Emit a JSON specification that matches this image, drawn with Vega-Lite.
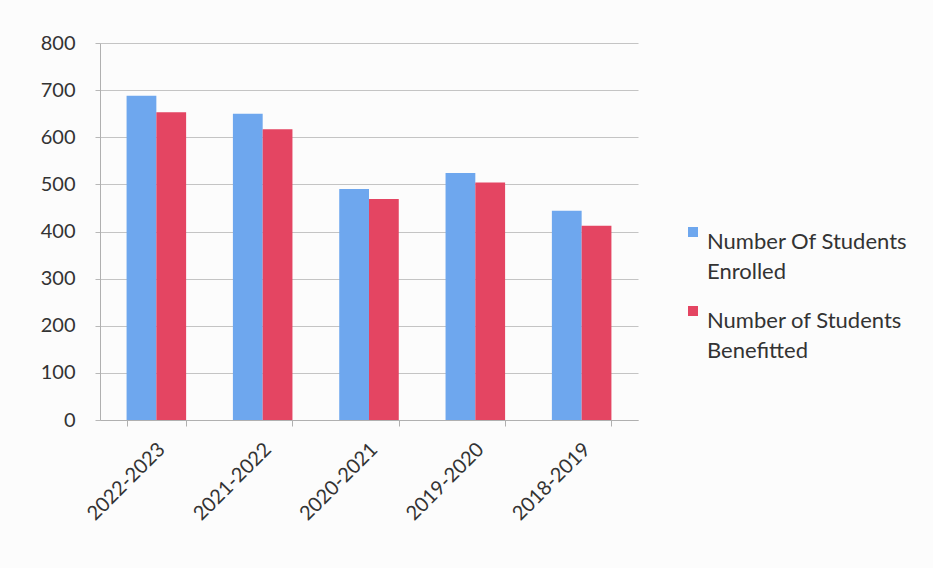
{
  "$schema": "https://vega.github.io/schema/vega-lite/v6.json",
  "autosize": "none",
  "width": 538,
  "height": 377,
  "padding": {"left": 100, "top": 43, "right": 295, "bottom": 148},
  "background": "#fcfcfc",
  "data": {
    "values": [
      {"year": "2022-2023", "series": "Number Of Students Enrolled", "value": 688},
      {"year": "2022-2023", "series": "Number of Students Benefitted", "value": 653},
      {"year": "2021-2022", "series": "Number Of Students Enrolled", "value": 650},
      {"year": "2021-2022", "series": "Number of Students Benefitted", "value": 617},
      {"year": "2020-2021", "series": "Number Of Students Enrolled", "value": 490},
      {"year": "2020-2021", "series": "Number of Students Benefitted", "value": 469},
      {"year": "2019-2020", "series": "Number Of Students Enrolled", "value": 524},
      {"year": "2019-2020", "series": "Number of Students Benefitted", "value": 504},
      {"year": "2018-2019", "series": "Number Of Students Enrolled", "value": 444},
      {"year": "2018-2019", "series": "Number of Students Benefitted", "value": 412}
    ]
  },
  "mark": {"type": "bar"},
  "encoding": {
    "x": {
      "field": "year",
      "type": "nominal",
      "sort": ["2022-2023", "2021-2022", "2020-2021", "2019-2020", "2018-2019"],
      "scale": {"paddingInner": 0.44, "paddingOuter": 0.25},
      "axis": {
        "title": null,
        "labelAngle": -45,
        "labelAlign": "right",
        "labelBaseline": "middle",
        "labelFont": "Lato",
        "labelFontSize": 20,
        "labelColor": "#333333",
        "labelPadding": 20,
        "labelOffset": 5,
        "tickBand": "extent",
        "tickSize": 6,
        "tickColor": "#b0b0b0",
        "domainColor": "#b0b0b0"
      }
    },
    "xOffset": {
      "field": "series",
      "type": "nominal",
      "sort": ["Number Of Students Enrolled", "Number of Students Benefitted"],
      "scale": {"paddingInner": 0}
    },
    "y": {
      "field": "value",
      "type": "quantitative",
      "scale": {"domain": [0, 800], "nice": false},
      "axis": {
        "title": null,
        "values": [0, 100, 200, 300, 400, 500, 600, 700, 800],
        "labelFont": "Lato",
        "labelFontSize": 20,
        "labelColor": "#333333",
        "labelPadding": 20,
        "tickSize": 5,
        "tickColor": "#b8b8b8",
        "domainColor": "#b0b0b0",
        "gridColor": "#c4c4c4"
      }
    },
    "color": {
      "field": "series",
      "type": "nominal",
      "sort": ["Number Of Students Enrolled", "Number of Students Benefitted"],
      "scale": {"range": ["#6ea7ee", "#e44562"]},
      "legend": {
        "title": null,
        "orient": "none",
        "legendX": 582,
        "legendY": 178,
        "symbolType": "square",
        "symbolSize": 100,
        "symbolStrokeWidth": 0,
        "labelFont": "Lato",
        "labelFontSize": 22,
        "labelColor": "#333333",
        "labelLimit": 320,
        "labelOffset": 3,
        "rowPadding": 17,
        "labelBaseline": "top",
        "labelExpr": "datum.value == 'Number Of Students Enrolled' ? ['Number Of Students', 'Enrolled'] : ['Number of Students', 'Benefitted']",
        "encode": {
          "labels": {"update": {"lineHeight": {"value": 30}}}
        }
      }
    }
  },
  "config": {
    "view": {"stroke": null}
  }
}
